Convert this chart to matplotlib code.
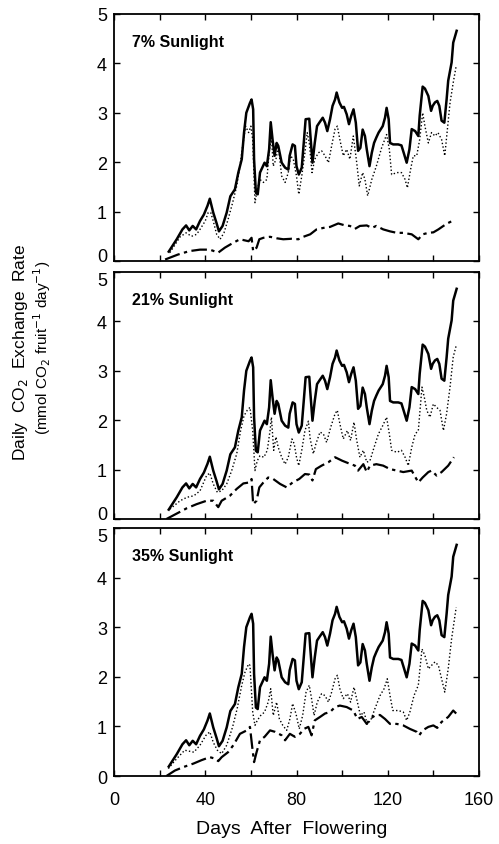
"""
Daily CO2 exchange rate of fruit under three sunlight levels
"""

import matplotlib
matplotlib.use("Agg")
from matplotlib import pyplot as plt

plt.rcParams["font.family"] = ["Liberation Sans", "DejaVu Sans"]

# solid line (same curve in every panel)
solid_day = [24, 27.5, 30, 31.6, 33, 34.5, 36, 37.7, 39.4, 41, 42, 43.5, 45, 46, 47.6,
             49.4, 51, 53, 54.5, 56, 57, 58, 59.6, 60.3, 61, 61.4, 62.2, 63, 64, 65,
             66, 67, 68, 68.7, 69.5, 70.4, 71.3, 72, 73.5, 75, 76.4, 77, 78.3, 79.3,
             80, 81, 82.3, 83.3, 84, 85.6, 86, 87, 88, 89, 90, 91.5, 92.5, 93.5, 94.7,
             95.8, 96.9, 97.6, 98.8, 100, 100.8, 102, 103, 104, 105, 106, 107, 108,
             109, 110, 110.8, 112, 113, 114, 115, 116, 117.8, 118.8, 119.5, 120.4,
             121, 122.4, 124.6, 126, 127, 128.3, 129.5, 130.5, 132, 133.4, 134, 135.3,
             136.3, 137.8, 139, 139.7, 140.7, 141.7, 142.6, 143.6, 144.8, 145.8,
             146.5, 148, 148.7, 150.2]
solid_val = [0.19, 0.44, 0.64, 0.72, 0.62, 0.71, 0.64, 0.81, 0.94, 1.12, 1.26, 0.98,
             0.76, 0.60, 0.71, 0.98, 1.31, 1.45, 1.79, 2.06, 2.6, 3.0, 3.2, 3.27, 3.07,
             2.06, 1.38, 1.35, 1.79, 1.89, 1.99, 1.92, 2.26, 2.81, 2.46, 2.13, 2.39,
             2.33, 1.99, 1.89, 1.85, 2.13, 2.36, 2.33, 1.92, 1.75, 1.89, 2.46, 2.87,
             2.88, 2.6, 1.99, 2.39, 2.73, 2.8, 2.9, 2.8, 2.63, 2.87, 3.14, 3.27, 3.41,
             3.21, 3.1, 3.12, 2.97, 2.77, 2.94, 3.07, 2.8, 2.23, 2.29, 2.66, 2.53, 2.26,
             1.92, 2.19, 2.39, 2.5, 2.6, 2.73, 2.9, 3.1, 2.87, 2.39, 2.36, 2.36, 2.34,
             2.19, 1.99, 2.26, 2.67, 2.63, 2.53, 2.94, 3.53, 3.49, 3.34, 3.04, 3.14,
             3.21, 3.24, 3.14, 2.84, 2.8, 3.27, 3.65, 4.02, 4.42, 4.66]

# dotted lines
dot7_day = [24.5, 29, 31.6, 34, 36.2, 37.7, 40, 41.3, 42.4, 43.5, 45, 46.5, 48.2, 50,
            52, 53.8, 55.2, 56.4, 57.7, 59, 60, 60.8, 61.8, 62.8, 64, 65.5, 67, 68, 69,
            69.8, 71, 72, 73.5, 75, 76.4, 77.4, 78.6, 80, 81, 82.3, 83.7, 84.7, 85.6,
            86.8, 88, 89.6, 91, 92.5, 94, 95.4, 96.9, 97.9, 99, 100.5, 102, 103.4,
            104.9, 106.4, 107.5, 109, 110, 111.2, 113, 115, 117.3, 119.5, 120.7, 121.7,
            124, 126, 127.6, 128.6, 130, 131.2, 132.7, 134, 135.3, 136.3, 137.8, 139.2,
            140.7, 142, 143.6, 145, 146, 147.3, 148.7, 150]
dot7_val = [0.17, 0.49, 0.57, 0.5, 0.54, 0.64, 0.81, 0.98, 0.98, 0.81, 0.54, 0.44, 0.57,
            0.84, 1.18, 1.52, 1.92, 2.33, 2.73, 2.6, 2.73, 2.46, 1.18, 1.45, 1.65, 1.59,
            1.65, 2.19, 2.53, 1.92, 2.06, 2.33, 1.72, 1.59, 1.79, 2.13, 2.06, 1.72, 1.35,
            1.72, 2.19, 2.6, 2.39, 1.79, 2.06, 2.19, 2.23, 2.13, 1.99, 2.33, 2.67, 2.73,
            2.46, 2.13, 2.26, 2.06, 2.53, 1.99, 1.52, 1.79, 1.65, 1.32, 1.65, 1.92, 2.29,
            2.56, 2.26, 1.75, 1.79, 1.79, 1.65, 1.48, 1.85, 2.13, 2.13, 2.46, 3.0, 2.73,
            2.39, 2.6, 2.53, 2.6, 2.46, 2.13, 2.6, 3.2, 3.61, 3.95]

dot21_day = [24.5, 29, 32, 35, 37.7, 40.6, 42, 43.5, 45.3, 47.2, 49.4, 51.6, 53.8, 55.5,
             57, 58.4, 59.6, 60.8, 61.8, 62.8, 64, 65.7, 67.2, 68.4, 69, 70, 71, 72,
             73.5, 75, 76.4, 78, 79, 80, 81, 82.3, 83.7, 85.2, 86, 87.4, 88.5, 90.3,
             91.8, 93.2, 95, 96.9, 97.9, 99, 100.5, 102.3, 103.7, 105.2, 106.4, 107.8,
             109.3, 110.8, 112.2, 114, 115.9, 117.8, 119.5, 120.7, 121.7, 124, 126,
             127.6, 129, 130.5, 132, 133.4, 135, 136, 137.1, 138.5, 140, 141.4, 142.9,
             144.4, 145.8, 147.3, 148.7, 150]
dot21_val = [0.2, 0.37, 0.44, 0.47, 0.57, 0.88, 0.93, 0.71, 0.54, 0.57, 0.71, 0.98, 1.32,
             1.79, 2.09, 2.2, 2.26, 1.79, 0.98, 1.18, 1.28, 1.25, 1.39, 1.79, 2.06, 1.39,
             1.66, 1.45, 1.25, 1.11, 1.25, 1.62, 1.52, 1.25, 1.08, 1.39, 1.79, 1.98, 1.62,
             1.32, 1.52, 1.76, 1.72, 1.55, 1.86, 2.13, 2.2, 1.93, 1.62, 1.79, 1.59, 1.96,
             1.59, 1.25, 1.39, 1.15, 1.18, 1.45, 1.72, 1.89, 2.06, 1.72, 1.39, 1.35, 1.39,
             1.25, 1.08, 1.45, 1.72, 1.79, 2.67, 2.47, 2.2, 2.06, 2.33, 2.26, 2.2, 1.79,
             2.13, 2.67, 3.28, 3.51]

dot35_day = [23.8, 27.5, 31, 35, 37.7, 40.3, 42, 43.5, 45.3, 47.2, 49.4, 52, 54, 56,
             57.4, 59, 59.6, 60.8, 61.8, 62.8, 64.3, 66, 67.6, 68.7, 69.8, 71.3, 72.5,
             74, 75.7, 77.1, 78.3, 79.8, 81.2, 82.7, 84.2, 85.6, 86.6, 87.7, 89.1, 91,
             92.5, 94, 95.4, 96.9, 97.9, 99, 100.5, 102.3, 103.7, 105.2, 106.7, 108,
             109.6, 111, 112.5, 114.4, 116.6, 118.4, 119.8, 121, 122.2, 124.6, 126.8,
             128.3, 129.7, 131.5, 133.4, 135, 136.3, 137.8, 139.2, 140.7, 142.2, 143.6,
             145, 146.5, 148, 150]
dot35_val = [0.15, 0.35, 0.52, 0.48, 0.62, 0.82, 0.89, 0.68, 0.52, 0.45, 0.62, 0.99,
             1.36, 1.83, 2.09, 2.26, 2.23, 1.29, 1.02, 1.12, 1.22, 1.29, 1.49, 1.76, 1.22,
             1.49, 1.15, 1.02, 0.92, 1.15, 1.46, 1.25, 0.95, 1.22, 1.69, 1.83, 1.56, 1.22,
             1.49, 1.66, 1.62, 1.49, 1.69, 1.96, 2.03, 1.76, 1.56, 1.66, 1.49, 1.79, 1.49,
             1.22, 1.29, 1.05, 1.12, 1.36, 1.62, 1.76, 1.96, 1.62, 1.32, 1.32, 1.29, 1.12,
             1.29, 1.62, 1.83, 2.56, 2.43, 2.16, 2.23, 2.3, 2.23, 1.96, 1.69, 2.16, 2.77,
             3.4]

# dash-dot lines
dd7_day = [22.4, 28, 33, 37.7, 42, 45.7, 48.6, 52.3, 55.2, 59, 60.3, 61, 62.5, 63.7,
           65.5, 68.4, 71.3, 74.2, 77.9, 80.8, 83, 86, 88.8, 91.8, 94.7, 98.3, 101.3,
           103.4, 105.6, 107.8, 110.8, 113, 115, 118, 121, 124, 126.8, 130.5, 133.4,
           135.3, 137.8, 140, 142.2, 144.4, 146.5, 148.7]
dd7_val = [0.03, 0.13, 0.2, 0.23, 0.23, 0.17, 0.27, 0.37, 0.44, 0.4, 0.47, 0.2, 0.27,
           0.44, 0.47, 0.49, 0.46, 0.44, 0.45, 0.44, 0.49, 0.54, 0.64, 0.67, 0.69, 0.76,
           0.72, 0.71, 0.65, 0.71, 0.72, 0.67, 0.71, 0.64, 0.6, 0.57, 0.57, 0.54, 0.44,
           0.54, 0.57, 0.58, 0.64, 0.71, 0.77, 0.82]

dd21_day = [23, 27.5, 32, 36.2, 40.6, 43.5, 45.7, 47.2, 50.8, 53.8, 56.7, 59.3, 60.3,
            61, 62.5, 63.7, 65.5, 67.6, 69.8, 72.8, 75.7, 78.3, 81.2, 83.7, 85.6, 87,
            88.5, 91, 94, 96.9, 100, 102.7, 105.6, 107, 109.3, 110.8, 112.2, 115, 118,
            121, 124, 126.8, 130.5, 133.4, 135.3, 137.8, 139.2, 141.4, 143.6, 146.5, 149]
dd21_val = [0.0, 0.11, 0.22, 0.3, 0.37, 0.37, 0.24, 0.37, 0.47, 0.61, 0.72, 0.74, 0.81,
            0.3, 0.37, 0.64, 0.74, 0.84, 0.81, 0.71, 0.64, 0.74, 0.81, 0.91, 0.9, 0.78,
            1.01, 1.08, 1.15, 1.25, 1.18, 1.13, 1.08, 0.98, 1.11, 0.95, 1.08, 1.11, 1.08,
            1.01, 0.98, 0.95, 0.98, 0.74, 0.84, 0.95, 0.98, 0.88, 0.95, 1.08, 1.25]

dd35_day = [23, 26.7, 30.4, 34.8, 38.4, 42, 44.3, 45.7, 47.2, 50, 52.3, 55.2, 58.2,
            59.6, 60.5, 61.4, 62.5, 64, 66, 68.4, 70.6, 73.5, 75, 77.1, 79.3, 81.5,
            83.3, 85.2, 86.6, 88, 90.3, 92.5, 94.7, 96.9, 99, 102, 104.9, 106.7, 108.6,
            110.8, 112.2, 114.4, 116.6, 118.8, 121, 124, 126.8, 129.7, 132.7, 133.8,
            135.3, 137.8, 140, 141.7, 143.6, 146.5, 148.7, 150]
dd35_val = [0.0, 0.11, 0.18, 0.25, 0.32, 0.38, 0.35, 0.3, 0.38, 0.48, 0.62, 0.85, 0.92,
            0.99, 0.62, 0.28, 0.48, 0.72, 0.79, 0.92, 0.89, 0.82, 0.72, 0.85, 0.79, 0.85,
            0.95, 0.99, 0.82, 1.12, 1.19, 1.26, 1.29, 1.39, 1.42, 1.39, 1.32, 1.15, 1.19,
            1.05, 1.15, 1.22, 1.23, 1.15, 1.05, 1.05, 1.02, 0.95, 0.89, 0.82, 0.92, 0.99,
            1.02, 0.97, 1.09, 1.19, 1.32, 1.26]

labels = ["7% Sunlight", "21% Sunlight", "35% Sunlight"]
dotted = [(dot7_day, dot7_val), (dot21_day, dot21_val), (dot35_day, dot35_val)]
dashdot = [(dd7_day, dd7_val), (dd21_day, dd21_val), (dd35_day, dd35_val)]

fig = plt.figure(figsize=(4.99, 8.45), dpi=100)
W, H = 499, 845
# panel top / bottom edges in pixels
edges = [(15, 262), (273, 520), (529, 777)]
left, right = 114, 479

for i, (top, bot) in enumerate(edges):
    ax = fig.add_axes([left / W, 1 - bot / H, (right - left) / W, (bot - top) / H])
    ax.plot(solid_day, solid_val, color="black", lw=1.8)
    ax.plot(*dotted[i], color="black", lw=1.0, ls=(0, (1, 1.6)))
    ax.plot(*dashdot[i], color="black", lw=1.6, ls=(0, (7, 2, 1.5, 2)))
    ax.set_xlim(0, 160)
    ax.set_ylim(0, 5)
    ax.set_xticks(range(0, 161, 20))
    ax.set_yticks(range(0, 6))
    ax.tick_params(direction="in", top=True, right=True, length=4, width=1,
                   labelsize=13)
    ax.tick_params(axis="x", pad=11)
    ax.tick_params(axis="y", pad=5)
    if i < 2:
        ax.set_xticklabels([])
    else:
        ax.set_xticklabels(["0", "", "40", "", "80", "", "120", "", "160"])
    ylabs = ax.get_yticklabels()
    if i < 2:
        ylabs[0].set_verticalalignment("baseline")
    if i > 0:
        ylabs[-1].set_verticalalignment("top")
    for s in ax.spines.values():
        s.set_linewidth(1.3)
    ax.text(0.05, 0.89, labels[i], transform=ax.transAxes, fontsize=11.5,
            fontweight="bold", va="center", ha="left")

fig.text(292 / W, 1 - 830 / H, "Days  After  Flowering", ha="center", va="center",
         fontsize=14)
fig.text(21 / W, 1 - 352 / H, "Daily  CO$_2$  Exchange  Rate", rotation=90,
         ha="center", va="center", fontsize=12.5)
fig.text(42 / W, 1 - 348 / H, "(mmol CO$_2$ fruit$^{-1}$ day$^{-1}$)", rotation=90,
         ha="center", va="center", fontsize=11)

plt.savefig("out.png", dpi=100)
plt.close()
